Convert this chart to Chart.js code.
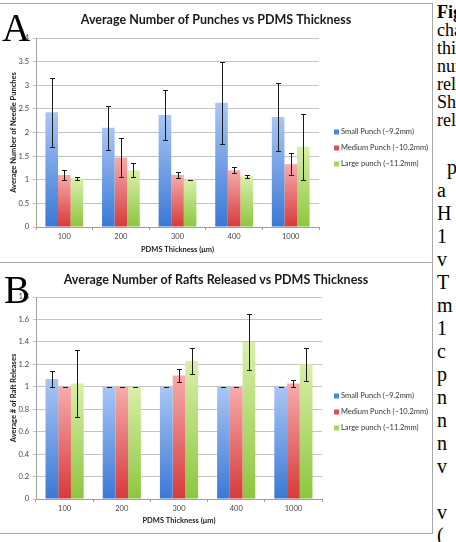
<!DOCTYPE html>
<html>
<head>
<meta charset="utf-8">
<script src="https://cdn.jsdelivr.net/npm/chart.js@4.4.0/dist/chart.umd.min.js"></script>
<style>
  html, body { margin: 0; padding: 0; background: #fff; }
  #page { position: relative; width: 456px; height: 542px; overflow: hidden; background: #fff; }
  .hl { position: absolute; left: 0; width: 432px; height: 1px; background: #a8a8a8; }
  .vl { position: absolute; left: 432px; top: 3px; width: 1px; height: 531px; background: #a8a8a8; }
  canvas { position: absolute; left: 0; }
  .letter { position: absolute; font-family: "Liberation Serif", "DejaVu Serif", serif; font-size: 39px; line-height: 39px; color: #000; }
  .txt { position: absolute; font-family: "Liberation Serif", serif; font-size: 18px; line-height: 18px; color: #000; white-space: nowrap; }
</style>
</head>
<body>
<div id="page">
  <canvas id="chartA" width="432" height="258" style="top:4px"></canvas>
  <canvas id="chartB" width="432" height="270" style="top:263px"></canvas>
  <div class="hl" style="top:3px"></div>
  <div class="hl" style="top:262px"></div>
  <div class="hl" style="top:533px"></div>
  <div class="vl"></div>
  <div class="letter" style="left:2px; top:8px">A</div>
  <div class="letter" style="left:4px; top:270px">B</div>
  <div id="side"></div>
</div>
<script>
// categories
const thickness = ['100', '200', '300', '400', '1000'];
const seriesNames = ['Small Punch (~9.2mm)', 'Medium Punch (~10.2mm)', 'Large punch (~11.2mm)'];

// A - average number of needle punches
const punchSmall = [2.43, 2.10, 2.37, 2.63, 2.33];
const punchSmallErr = [0.73, 0.47, 0.52, 0.87, 0.72];
const punchMedium = [1.10, 1.47, 1.10, 1.20, 1.33];
const punchMediumErr = [0.10, 0.42, 0.06, 0.06, 0.23];
const punchLarge = [1.03, 1.20, 1.00, 1.07, 1.70];
const punchLargeErr = [0.03, 0.15, 0.00, 0.03, 0.70];
const yTicksA = [0, 0.5, 1, 1.5, 2, 2.5, 3, 3.5, 4];

// B - average number of raft releases
const raftSmall = [1.07, 1.00, 1.00, 1.00, 1.00];
const raftSmallErr = [0.07, 0, 0, 0, 0];
const raftMedium = [1.00, 1.00, 1.10, 1.00, 1.03];
const raftMediumErr = [0, 0, 0.06, 0, 0.03];
const raftLarge = [1.03, 1.00, 1.23, 1.40, 1.20];
const raftLargeErr = [0.30, 0, 0.12, 0.25, 0.15];
const yTicksB = [0, 0.2, 0.4, 0.6, 0.8, 1, 1.2, 1.4, 1.6, 1.8];

// text column on the right (cut off by the page edge)
const captionLines = ['Fig', 'cha', 'thi', 'num', 'rel', 'She', 'rel'];
const bodyLines = ['p', 'a', 'H', '1', 'v', 'T', 'm', '1', 'c', 'p', 'n', 'n', 'n', 'v', '', 'v', '('];

const font = 'Lato';
const colors = [
  { top: '#a9c6f4', bottom: '#3a78d6', key: '#4a84dc' },
  { top: '#f7abab', bottom: '#d63a3a', key: '#e05252' },
  { top: '#d9efaa', bottom: '#8cc63e', key: '#a5d65f' }
];

// gradient per bar, light on top
function barFill(c) {
  return (ctx) => {
    const chart = ctx.chart;
    if (ctx.type !== 'data' || !chart.chartArea) return c.bottom;
    const ys = chart.scales.y;
    const y0 = ys.getPixelForValue(0);
    const y1 = ys.getPixelForValue(ctx.raw);
    if (!isFinite(y0) || !isFinite(y1) || y0 === y1) return c.bottom;
    const g = chart.ctx.createLinearGradient(0, y1, 0, y0);
    g.addColorStop(0, c.top);
    g.addColorStop(1, c.bottom);
    return g;
  };
}

const errorBars = {
  id: 'errorBars',
  afterDatasetsDraw(chart) {
    const ctx = chart.ctx;
    const ys = chart.scales.y;
    ctx.save();
    ctx.strokeStyle = '#1a1a1a';
    ctx.lineWidth = 1;
    chart.data.datasets.forEach((ds, i) => {
      chart.getDatasetMeta(i).data.forEach((bar, j) => {
        const v = ds.data[j], e = ds.errors[j];
        const x = Math.round(bar.x) + 0.5;
        const lo = Math.round(ys.getPixelForValue(v - e)) + 0.5;
        const hi = Math.round(ys.getPixelForValue(v + e)) + 0.5;
        ctx.beginPath();
        ctx.moveTo(x, lo); ctx.lineTo(x, hi);
        ctx.moveTo(x - 2.5, lo); ctx.lineTo(x + 2.5, lo);
        ctx.moveTo(x - 2.5, hi); ctx.lineTo(x + 2.5, hi);
        ctx.stroke();
      });
    });
    ctx.restore();
  }
};

const sideLegend = {
  id: 'sideLegend',
  afterDraw(chart, args, opts) {
    const ctx = chart.ctx;
    ctx.save();
    ctx.font = '7.5px ' + font;
    ctx.textBaseline = 'middle';
    chart.data.datasets.forEach((ds, i) => {
      const y = opts.y + i * 16;
      ctx.fillStyle = colors[i].key;
      ctx.fillRect(opts.x, y - 2.5, 5, 5);
      ctx.fillStyle = '#333';
      ctx.fillText(ds.label, opts.x + 7, y);
    });
    ctx.restore();
  }
};

function makeChart(id, title, yTitle, series, errors, yTicks, yMax, cfg) {
  return new Chart(document.getElementById(id), {
    type: 'bar',
    data: {
      labels: thickness,
      datasets: series.map((d, i) => ({
        label: seriesNames[i],
        data: d,
        errors: errors[i],
        backgroundColor: barFill(colors[i]),
        borderWidth: 0,
        categoryPercentage: 0.667,
        barPercentage: 1
      }))
    },
    options: {
      responsive: false,
      animation: false,
      layout: { padding: 0 },
      plugins: {
        legend: { display: false },
        tooltip: { enabled: false },
        title: {
          display: true,
          text: title,
          color: '#1a1a1a',
          font: { family: font, size: 12.5, weight: 'bold', lineHeight: 1.2 },
          padding: { top: cfg.titleTop, bottom: cfg.titleBottom }
        },
        sideLegend: { x: 334, y: cfg.legendY }
      },
      scales: {
        x: {
          afterFit: (s) => { s.height = cfg.bottom; },
          grid: { drawOnChartArea: false, drawTicks: true, tickLength: 3, color: '#a0a0a0', offset: true },
          border: { color: '#a0a0a0' },
          ticks: { color: '#444', font: { family: font, size: 7.5 }, padding: 2, maxRotation: 0 },
          title: {
            display: true, text: 'PDMS Thickness (μm)', color: '#1a1a1a',
            font: { family: font, size: 7.5, weight: 'bold', lineHeight: 1.2 },
            padding: { top: 0, bottom: cfg.xTitlePad }
          }
        },
        y: {
          min: 0, max: yMax,
          afterFit: (s) => { s.width = 36; },
          afterBuildTicks: (s) => { s.ticks = yTicks.map(v => ({ value: v })); },
          grid: { color: '#c4c4c4', tickLength: 3, drawTicks: true },
          border: { color: '#a0a0a0' },
          ticks: { color: '#444', font: { family: font, size: 7.5 }, padding: 4, callback: (v) => String(v) },
          title: {
            display: true, text: yTitle, color: '#1a1a1a',
            font: { family: font, size: 7.5, weight: 'bold', lineHeight: 1.2 },
            padding: { top: 9.5, bottom: 0 }
          }
        },
        // empty box on the right that keeps room for the legend
        side: {
          type: 'linear',
          position: 'right',
          afterFit: (s) => { s.width = cfg.right; },
          grid: { display: false },
          border: { display: false },
          ticks: { display: false }
        }
      }
    },
    plugins: [errorBars, sideLegend]
  });
}

makeChart('chartA', 'Average Number of Punches vs PDMS Thickness', 'Average Number of Needle Punches',
  [punchSmall, punchMedium, punchLarge], [punchSmallErr, punchMediumErr, punchLargeErr], yTicksA, 4,
  { right: 113, bottom: 35, titleTop: 8.5, titleBottom: 10.5, legendY: 128, xTitlePad: 7.5 });

makeChart('chartB', 'Average Number of Rafts Released vs PDMS Thickness', 'Average # of Raft Releases',
  [raftSmall, raftMedium, raftLarge], [raftSmallErr, raftMediumErr, raftLargeErr], yTicksB, 1.8,
  { right: 110, bottom: 34, titleTop: 9.5, titleBottom: 9.5, legendY: 133, xTitlePad: 7.5 });

// right column text
const side = document.getElementById('side');
captionLines.forEach((t, i) => {
  const d = document.createElement('div');
  d.className = 'txt';
  d.style.left = '437px';
  d.style.top = (3 + i * 18) + 'px';
  if (i === 0) d.style.fontWeight = 'bold';
  d.textContent = t;
  side.appendChild(d);
});
bodyLines.forEach((t, i) => {
  if (!t) return;
  const d = document.createElement('div');
  d.className = 'txt';
  d.style.fontSize = '20px';
  d.style.left = (i === 0 ? 447 : 437) + 'px';
  d.style.top = (158 + i * 23) + 'px';
  d.textContent = t;
  side.appendChild(d);
});
</script>
</body>
</html>
